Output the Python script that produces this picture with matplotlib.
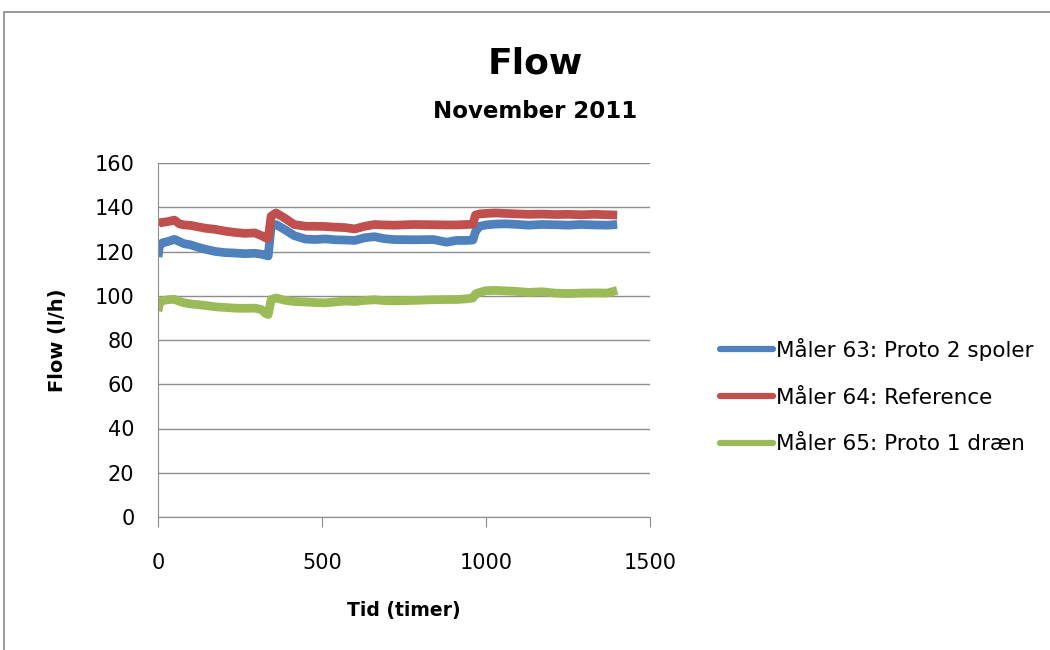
import matplotlib
matplotlib.use("Agg")
import matplotlib.pyplot as plt
from matplotlib.patches import Rectangle

# hours
tid = [0, 5, 15, 30, 50, 65, 80, 100, 120, 145, 175, 205, 235, 265, 295, 315, 328, 336,
       345, 360, 385, 415, 450, 480, 510, 540, 570, 600, 630, 660, 690, 720, 780, 840,
       880, 910, 940, 960, 968, 980, 1000, 1030, 1060, 1090, 1130, 1170, 1210, 1250,
       1290, 1330, 1370, 1400]

# l/h
maaler63 = [117.5, 123, 124, 124.5, 125.5, 124.5, 123.5, 123, 122, 121, 120, 119.5, 119.3,
            119, 119.2, 118.8, 118.3, 118, 131.5, 132.2, 130, 127.2, 125.6, 125.4, 125.7,
            125.3, 125.2, 125, 126.2, 126.7, 125.8, 125.4, 125.3, 125.4, 124.2, 125, 125,
            125.2, 129, 131.4, 132, 132.4, 132.5, 132.3, 131.9, 132.2, 132.1, 131.9, 132.2,
            132, 131.9, 132.2]
maaler64 = [132, 133, 133.2, 133.5, 134.2, 132.5, 132, 131.8, 131.2, 130.5, 130, 129.2,
            128.6, 128.2, 128.4, 127.2, 126.2, 126, 136, 137.4, 135.2, 132.2, 131.4, 131.4,
            131.3, 131, 130.8, 130.2, 131.4, 132.2, 132, 131.9, 132.2, 132.1, 132, 132,
            132.2, 132.3, 136.5, 137, 137.2, 137.4, 137.2, 137, 136.8, 136.9, 136.7, 136.8,
            136.6, 136.8, 136.6, 136.5]
maaler65 = [93, 97, 97.8, 98.2, 98.4, 97.5, 96.8, 96.3, 96, 95.6, 95, 94.7, 94.4, 94.3,
            94.4, 93.8, 92, 91.5, 98.3, 99, 98, 97.4, 97.2, 96.9, 96.8, 97.2, 97.6, 97.4,
            97.9, 98.2, 97.8, 97.7, 97.9, 98.2, 98.3, 98.3, 98.6, 99, 100.8, 101.5, 102.3,
            102.4, 102.2, 102, 101.5, 101.8, 101.2, 101, 101.2, 101.3, 101.2, 102.4]

labels = ["Måler 63: Proto 2 spoler", "Måler 64: Reference", "Måler 65: Proto 1 dræn"]
colors = ["#4F81BD", "#C0504D", "#9BBB59"]

plt.rcParams['font.family'] = ['DejaVu Sans']

fig = plt.figure(figsize=(10.5, 6.5), dpi=100)
# outer chart-area border (only left and top edges show)
fig.patches.append(Rectangle((4/1050, -0.1), 1.2, 1.1 - 12/650,
                             transform=fig.transFigure, fill=False,
                             edgecolor="#888888", linewidth=1.2))

ax = fig.add_axes([158/1050, 1 - 517/650, 492/1050, 354/650])

for ys, c, lab in zip([maaler63, maaler64, maaler65], colors, labels):
    ax.plot(tid, ys, color=c, linewidth=6.3, label=lab, solid_capstyle="butt",
            solid_joinstyle="round")

ax.set_xlim(0, 1500)
ax.set_ylim(0, 160)
ax.set_xticks([0, 500, 1000, 1500])
ax.set_yticks(range(0, 161, 20))
ax.grid(axis="y", color="#8c8c8c", linewidth=1)
ax.set_axisbelow(True)
for s in ["top", "right"]:
    ax.spines[s].set_visible(False)
for s in ["left", "bottom"]:
    ax.spines[s].set_color("#8c8c8c")
ax.tick_params(axis="x", direction="out", length=7, color="#8c8c8c", pad=19, labelsize=15)
ax.tick_params(axis="y", length=0, pad=17, labelsize=15)

ax.set_xlabel("Tid (timer)", fontsize=13.5, fontweight="bold", labelpad=20)
ax.set_ylabel("Flow (l/h)", fontsize=14, fontweight="bold", labelpad=20)

fig.text(535/1050, 1 - 63/650, "Flow", ha="center", va="center", fontsize=26, fontweight="bold")
fig.text(535/1050, 1 - 111/650, "November 2011", ha="center", va="center", fontsize=16.5, fontweight="bold")

leg = ax.legend(loc="center left", bbox_to_anchor=(701/1050, 1 - 396/650), bbox_transform=fig.transFigure,
                frameon=False, fontsize=15.5, handlelength=2.45, handletextpad=0.15, labelspacing=1.25)
for h in leg.get_lines():
    h.set_linewidth(4.5)
    h.set_solid_capstyle("round")

fig.savefig("out.png", dpi=100)
